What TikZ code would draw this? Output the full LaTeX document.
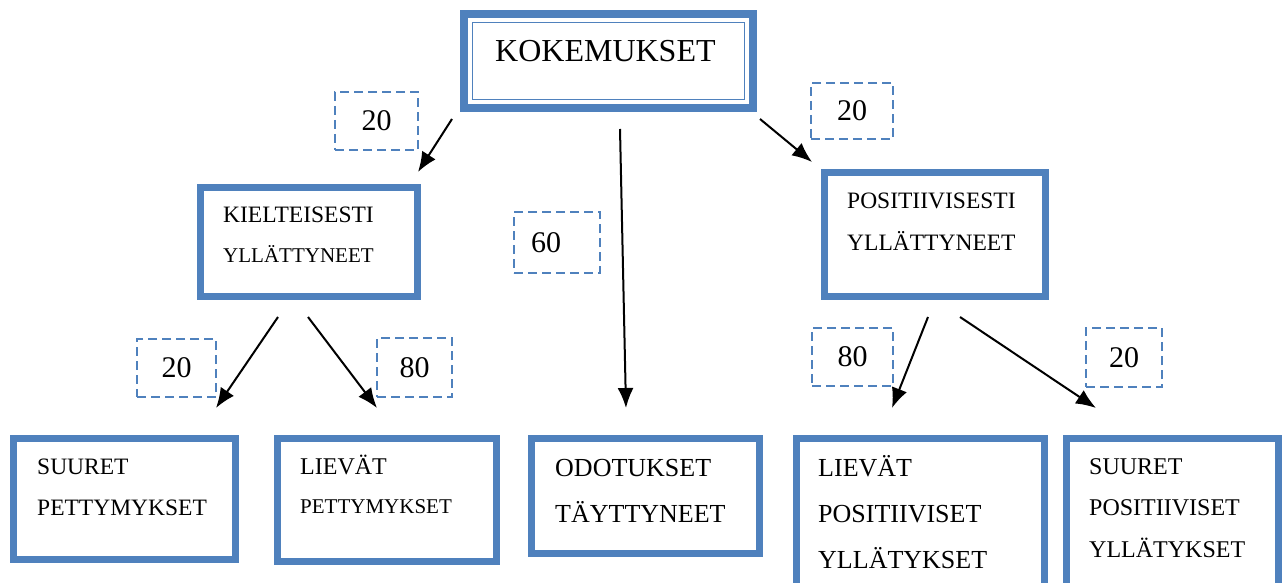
\documentclass[tikz,border=0pt]{standalone}
\usepackage{fontspec}
\setmainfont{Liberation Serif}
\usepackage{tikz}
\usetikzlibrary{arrows.meta}
\definecolor{boxblue}{RGB}{79,129,189}

\begin{document}
\begin{tikzpicture}%
        [x=1pt, y=-1pt,
        box/.style={draw=boxblue, line width=7pt, rectangle, outer sep=0pt, inner sep=0pt},
        pct/.style={draw=boxblue, line width=2.5pt, dash pattern=on 9pt off 5pt, rectangle,
                    outer sep=0pt, inner sep=0pt, font=\fontsize{30}{30}\selectfont},
        txt/.style={anchor=base west, align=left, inner sep=0pt},
        arr/.style={black, line width=2pt, -{Latex[length=20pt,width=16pt]}}]

    \useasboundingbox (0,0) rectangle (1282,583);
    \clip (0,0) rectangle (1282,583);

    %% Drawing the boxes
    \node[box, line width=8pt, minimum width=289pt, minimum height=94pt] (kokem) at (608.5,61) {};
    \draw[boxblue, line width=1.5pt] ([shift={(8.5,8.5)}]kokem.north west) rectangle ([shift={(-8.5,-8.5)}]kokem.south east);
    \node[box, minimum width=217pt, minimum height=109pt] (kielt) at (309,242) {};
    \node[box, minimum width=221pt, minimum height=124pt] (posit) at (935,234.5) {};
    \node[box, minimum width=222pt, minimum height=121pt] (suuret) at (124.5,499) {};
    \node[box, minimum width=219pt, minimum height=123pt] (lievat) at (387,500) {};
    \node[box, minimum width=228pt, minimum height=115pt] (odot) at (645.5,496) {};
    \node[box, minimum width=248pt, minimum height=171pt] (lpos) at (920.5,524) {};
    \node[box, minimum width=212pt, minimum height=171pt] (spos) at (1172.5,524) {};
    %%
    %% Drawing the texts (placed at the baseline of their last line)
    %%
    \node[txt, font=\fontsize{32}{32}\selectfont] (kokemtxt) at (495,62) {KOKEMUKSET};
    \node[txt, font=\fontsize{23.5}{40}\selectfont] (kielttxt) at (223,262)
        {KIELTEISESTI\\{\fontsize{21}{40}\selectfont YLLÄTTYNEET}};
    \node[txt, font=\fontsize{23.5}{42}\selectfont] (posittxt) at (847,250)
        {POSITIIVISESTI\\YLLÄTTYNEET};
    \node[txt, font=\fontsize{23.5}{41}\selectfont] (suurettxt) at (37,515)
        {SUURET\\PETTYMYKSET};
    \node[txt, font=\fontsize{24}{39}\selectfont] (lievattxt) at (300,513)
        {LIEVÄT\\{\fontsize{21}{39}\selectfont PETTYMYKSET}};
    \node[txt, font=\fontsize{26}{46}\selectfont] (odottxt) at (555,522)
        {ODOTUKSET\\TÄYTTYNEET};
    \node[txt, font=\fontsize{26}{46}\selectfont] (lpostxt) at (818,568)
        {LIEVÄT\\POSITIIVISET\\YLLÄTYKSET};
    \node[txt, font=\fontsize{24}{41.5}\selectfont] (spostxt) at (1089,557)
        {SUURET\\POSITIIVISET\\YLLÄTYKSET};
    %%
    %% Drawing the shares
    %%
    \node[pct, minimum width=83pt, minimum height=58pt] (p1) at (376.5,121) {20};
    \node[pct, minimum width=82pt, minimum height=56pt] (p2) at (852,111) {20};
    \node[pct, minimum width=86pt, minimum height=61pt, text width=72pt, align=left] (p3) at (557,242.5) {\,\,60};
    \node[pct, minimum width=79pt, minimum height=58pt] (p4) at (176.5,368) {20};
    \node[pct, minimum width=75pt, minimum height=59pt] (p5) at (414.5,367.5) {80};
    \node[pct, minimum width=81pt, minimum height=58pt] (p6) at (852.5,357) {80};
    \node[pct, minimum width=76pt, minimum height=59pt] (p7) at (1124,357.5) {20};
    %%
    %% Drawing the arrows
    %%
    \coordinate (kokemL) at (452,119);
    \coordinate (kokemM) at (620,129);
    \coordinate (kokemR) at (760,119);
    \coordinate (kieltL) at (278,317);
    \coordinate (kieltR) at (308,317);
    \coordinate (positL) at (928,317);
    \coordinate (positR) at (960,317);
    \coordinate (kieltT) at (418,172);
    \coordinate (positT) at (812,162);
    \coordinate (odotT) at (626,408);
    \coordinate (suuretT) at (216,408);
    \coordinate (lievatT) at (377,408);
    \coordinate (lposT) at (892,408);
    \coordinate (sposT) at (1096,408);
    \draw[arr] (kokemL) -- (kieltT);
    \draw[arr] (kokemM) -- (odotT);
    \draw[arr] (kokemR) -- (positT);
    \draw[arr] (kieltL) -- (suuretT);
    \draw[arr] (kieltR) -- (lievatT);
    \draw[arr] (positL) -- (lposT);
    \draw[arr] (positR) -- (sposT);
    %%
    \end{tikzpicture}
\end{document}
